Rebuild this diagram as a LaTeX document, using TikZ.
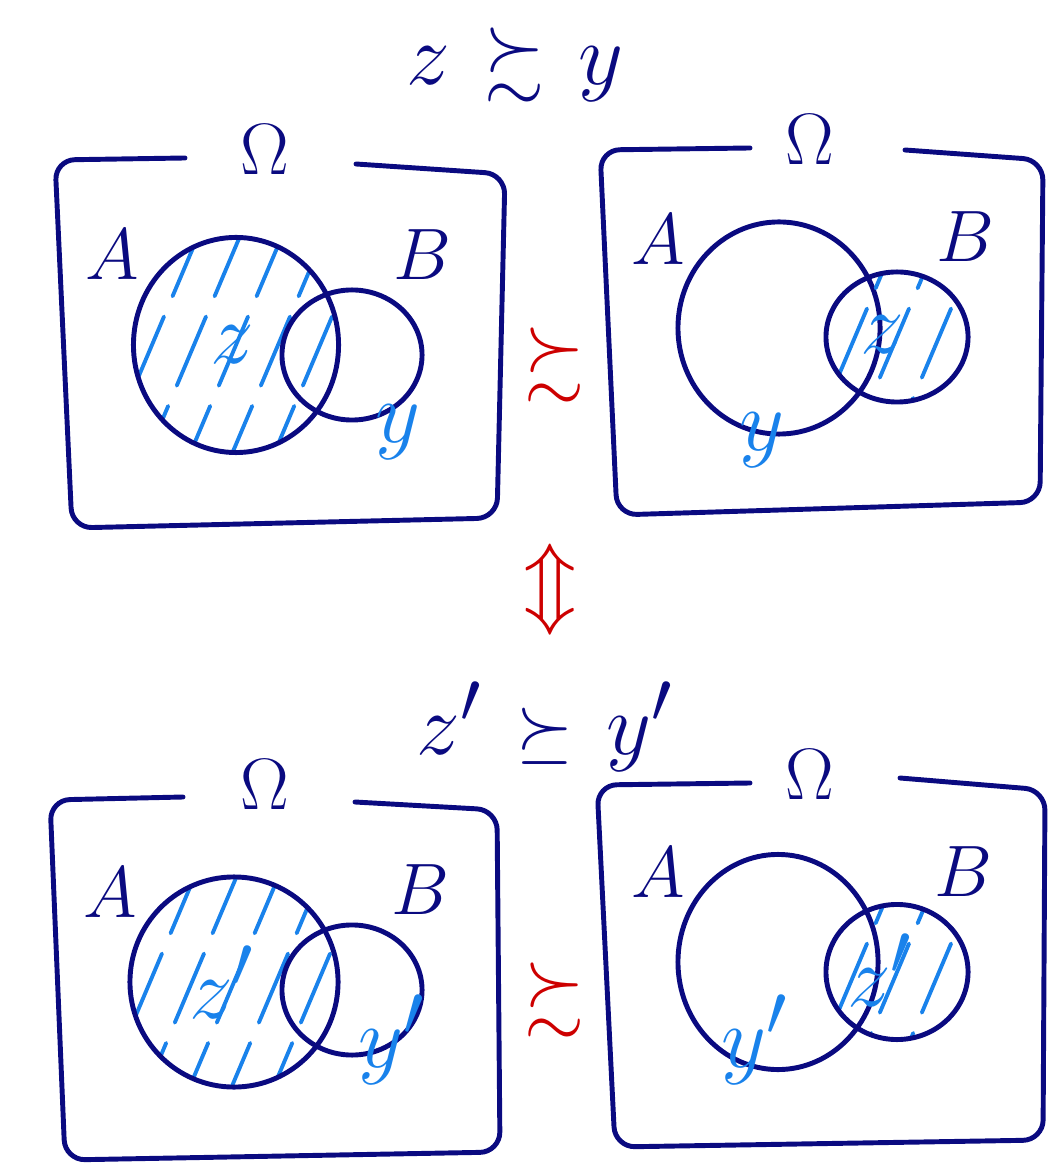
\documentclass[tikz,border=0pt]{standalone}
\usepackage{amsmath,amssymb}
\usepackage{tikz}
\usetikzlibrary{shapes.geometric, positioning}

\definecolor{ink}{RGB}{10,10,128}
\definecolor{pen}{RGB}{25,130,235}
\definecolor{redink}{RGB}{205,0,0}

\begin{document}
\begin{tikzpicture}[
  x=0.01cm, y=-0.01cm,
  frame/.style={draw=ink, line width=1.4pt, rounded corners=0.2cm, line cap=round},
  set/.style={ellipse, draw=ink, line width=1.4pt, inner sep=0pt},
  hatched/.style={set, path picture={
      \foreach \i in {-5,...,5}
        \draw[pen, line width=1.1pt, line cap=round, dash pattern=on 0.75cm off 0.22cm]
          ([xshift=\i*0.42cm-0.55cm, yshift=-1.3cm]path picture bounding box.center) -- ++(1.1cm,2.6cm);}},
  lab/.style={text=ink, font=\fontsize{21}{25}\selectfont},
  omega/.style={text=ink, font=\fontsize{20}{24}\selectfont},
  elem/.style={text=pen, font=\fontsize{32}{38}\selectfont},
  title/.style={text=ink, font=\fontsize{32}{38}\selectfont},
  rel/.style={text=redink, font=\fontsize{22}{26}\selectfont}
]
  \useasboundingbox (0,0) rectangle (1051,1168);

  % top row: z ~ y
  \node[title] (top) at (515,65) {$z$ {\fontsize{22}{26}\selectfont$\succsim$} $y$};

  \draw[frame] (185,158) -- (55,160) -- (72,528) -- (497,518) -- (505,174) -- (356,164);
  \node[omega] (omegaTL) at (265,150) {$\Omega$};
  \node[hatched, minimum width=2.05cm, minimum height=2.15cm] (ATL) at (236,345) {};
  \node[set, minimum width=1.4cm, minimum height=1.3cm] (BTL) at (352,355) {};
  \node[lab] (labATL) at (112,255) {$A$};
  \node[lab] (labBTL) at (422,255) {$B$};
  \node[elem] (zTL) at (232,345) {$z$};
  \node[elem] (yTL) at (398,432) {$y$};

  \node[rel] (relTop) at (555,365) {$\succsim$};

  \draw[frame] (750,148) -- (600,150) -- (617,515) -- (1040,502) -- (1043,160) -- (905,150);
  \node[omega] (omegaTR) at (810,140) {$\Omega$};
  \node[set, minimum width=2.02cm, minimum height=2.12cm] (ATR) at (779,328) {};
  \node[hatched, minimum width=1.42cm, minimum height=1.3cm] (BTR) at (897,337) {};
  \node[lab] (labATR) at (658,240) {$A$};
  \node[lab] (labBTR) at (965,237) {$B$};
  \node[elem] (zTR) at (882,335) {$z$};
  \node[elem] (yTR) at (762,440) {$y$};

  \node[rel, font=\fontsize{28}{32}\selectfont] (equiv) at (550,590) {$\Updownarrow$};

  % bottom row: z' ~ y'
  \node[title] (bottom) at (545,727) {$z'$ {\fontsize{22}{26}\selectfont$\succeq$} $y'$};

  \draw[frame] (183,797) -- (50,800) -- (65,1160) -- (500,1152) -- (497,810) -- (355,802);
  \node[omega] (omegaBL) at (265,785) {$\Omega$};
  \node[hatched, minimum width=2.08cm, minimum height=2.1cm] (ABL) at (234,982) {};
  \node[set, minimum width=1.4cm, minimum height=1.3cm] (BBL) at (352,990) {};
  \node[lab] (labABL) at (110,893) {$A$};
  \node[lab] (labBBL) at (420,890) {$B$};
  \node[elem] (zBL) at (222,982) {$z'$};
  \node[elem] (yBL) at (392,1040) {$y'$};

  \node[rel] (relBottom) at (555,1000) {$\succsim$};

  \draw[frame] (750,783) -- (597,785) -- (615,1147) -- (1043,1140) -- (1045,790) -- (900,778);
  \node[omega] (omegaBR) at (810,775) {$\Omega$};
  \node[set, minimum width=2.0cm, minimum height=2.15cm] (ABR) at (778,962) {};
  \node[hatched, minimum width=1.42cm, minimum height=1.35cm] (BBR) at (897,972) {};
  \node[lab] (labABR) at (658,873) {$A$};
  \node[lab] (labBBR) at (963,872) {$B$};
  \node[elem] (zBR) at (880,970) {$z'$};
  \node[elem] (yBR) at (755,1040) {$y'$};
\end{tikzpicture}
\end{document}
